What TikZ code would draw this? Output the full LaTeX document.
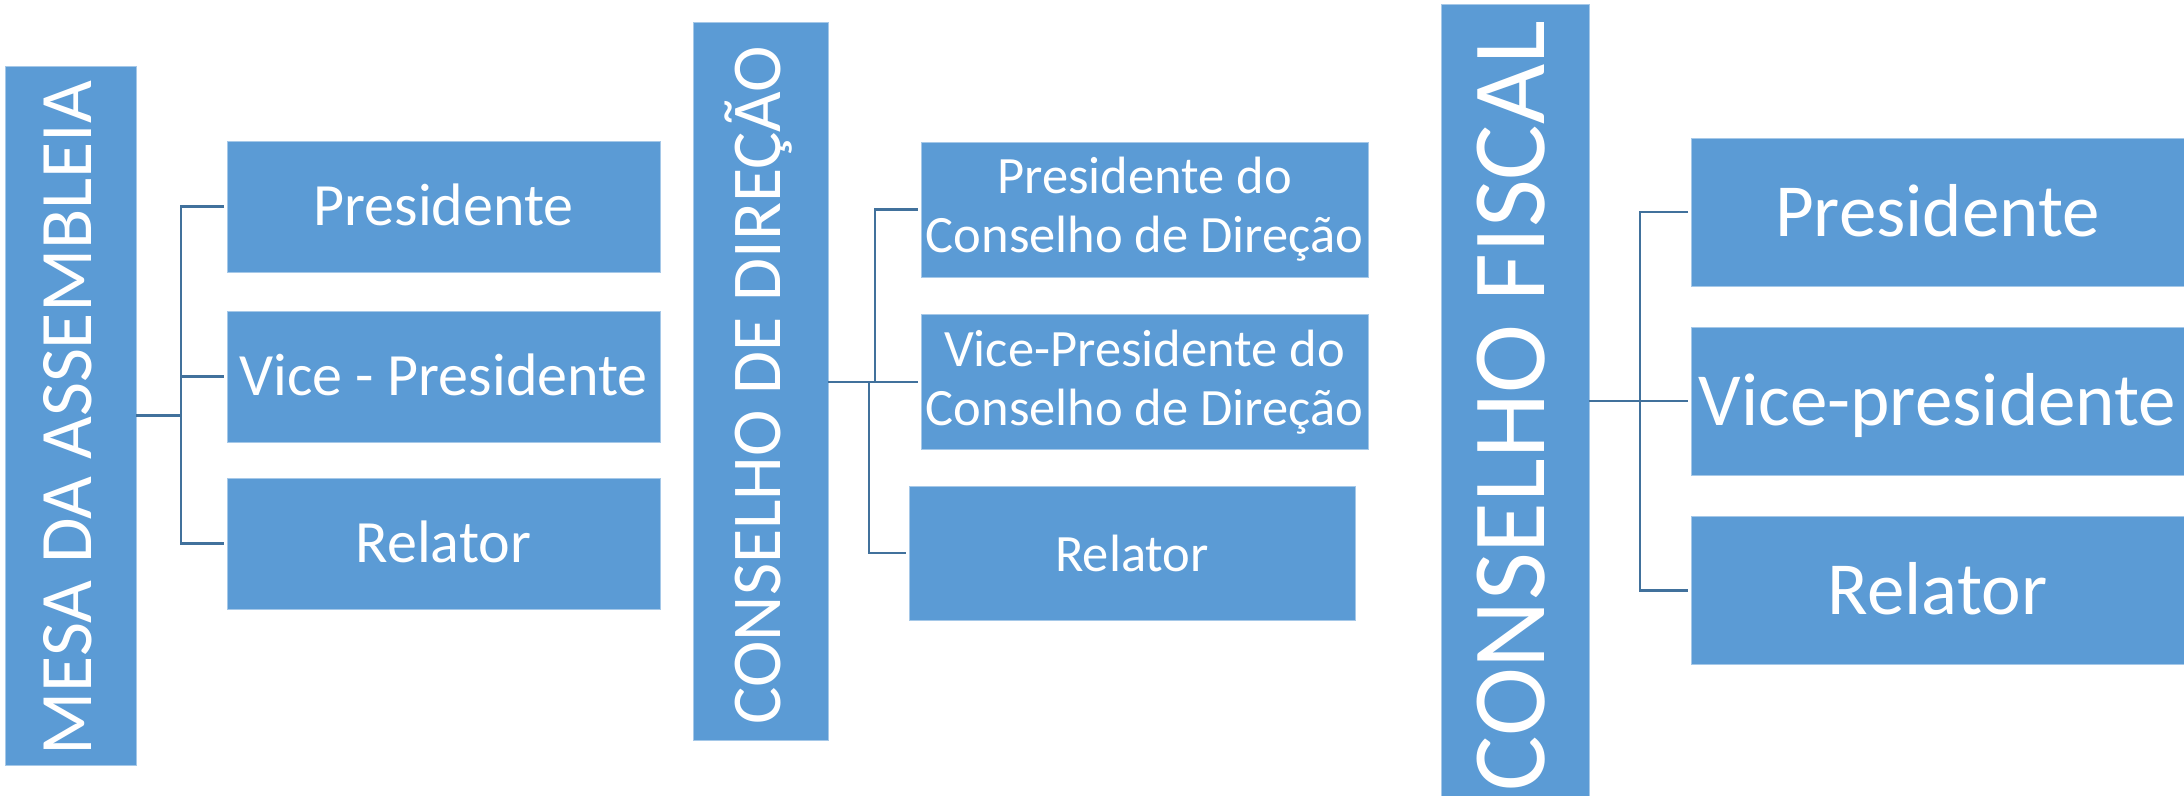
\documentclass[tikz,border=0pt]{standalone}
\usepackage{fontspec}
\setmainfont{Carlito}
\definecolor{boxblue}{HTML}{5B9BD5}
\definecolor{linkblue}{HTML}{41719C}
\begin{document}
\begin{tikzpicture}[x=1pt,y=-1pt,
  box/.style={rectangle, fill=boxblue, draw=boxblue!55!white, line width=0.8pt,
    inner sep=0pt, outer sep=0pt, text=white},
  vtext/.style={rotate=90, text=white, inner sep=0pt, text depth=0pt},
  conn/.style={draw=linkblue, line width=2.6pt},
  lbox/.style={box, minimum width=433, minimum height=131, text height=38.6pt, text depth=0pt,
    font=\fontsize{60}{66}\selectfont},
  dbox/.style={box, align=center, minimum width=447, minimum height=135,
    font=\fontsize{52.5}{59}\selectfont},
  fbox/.style={box, minimum width=493, minimum height=148, text height=48.3pt, text depth=0pt,
    font=\fontsize{75}{80}\selectfont}]
\fill[white] (0,0) rectangle (2184,795);
\useasboundingbox (0,0) rectangle (2184,795);

% ---- Mesa da Assembleia
\node[box, minimum width=131, minimum height=699] (mesa) at (70.5,415.5) {};
\node[vtext, text height=47.6pt, font=\fontsize{74}{74}\selectfont] (mesat) at (68,418) {MESA DA ASSEMBLEIA};
\node[lbox] (lp) at (443.5,206.5) {Presidente};
\node[lbox] (lv) at (443.5,376.5) {Vice - Presidente};
\node[lbox] (lr) at (443.5,543.5) {Relator};
\coordinate (mj) at (181,415.5);
\draw[conn] (mesa.east) -- (mj);
\draw[conn, shorten <=3pt, shorten >=3pt] (lp.west) -- (mj |- lp.west) -- (mj |- lr.west) -- (lr.west);
\draw[conn, shorten >=3pt] (mj |- lv.west) -- (lv.west);

% ---- Conselho de Direcao
\node[box, minimum width=135, minimum height=718] (dir) at (760.5,381) {};
\node[vtext, text height=45pt, font=\fontsize{70}{70}\selectfont] (dirt) at (758,385) {CONSELHO DE DIREÇÃO};
\node[dbox] (dp) at (1144.5,209.5) {Presidente do\\Conselho de Direção};
\node[dbox] (dv) at (1144.5,382) {Vice-Presidente do\\Conselho de Direção};
\node[dbox, minimum width=446, minimum height=134] (dr) at (1132,553) {Relator};
\coordinate (dja) at (875,382);
\coordinate (djb) at (869,382);
\draw[conn, shorten >=3pt] (dir.east |- dv.west) -- (dv.west);
\draw[conn, shorten >=3pt] (dja) |- (dp.west);
\draw[conn, shorten >=3pt] (djb) |- (dr.west);

% ---- Conselho Fiscal
\node[box, minimum width=148, minimum height=794] (fis) at (1515,401) {};
\node[vtext, text height=67pt, font=\fontsize{104}{104}\selectfont] (fist) at (1511,406) {CONSELHO FISCAL};
\node[fbox] (fp) at (1937.5,212) {Presidente};
\node[fbox] (fv) at (1937.5,401) {Vice-presidente};
\node[fbox] (fr) at (1937.5,590.5) {Relator};
\coordinate (fj) at (1640,401);
\draw[conn, shorten >=3pt] (fis.east |- fv.west) -- (fv.west);
\draw[conn, shorten <=3pt, shorten >=3pt] (fp.west) -- (fj |- fp.west) -- (fj |- fr.west) -- (fr.west);
\end{tikzpicture}
\end{document}
